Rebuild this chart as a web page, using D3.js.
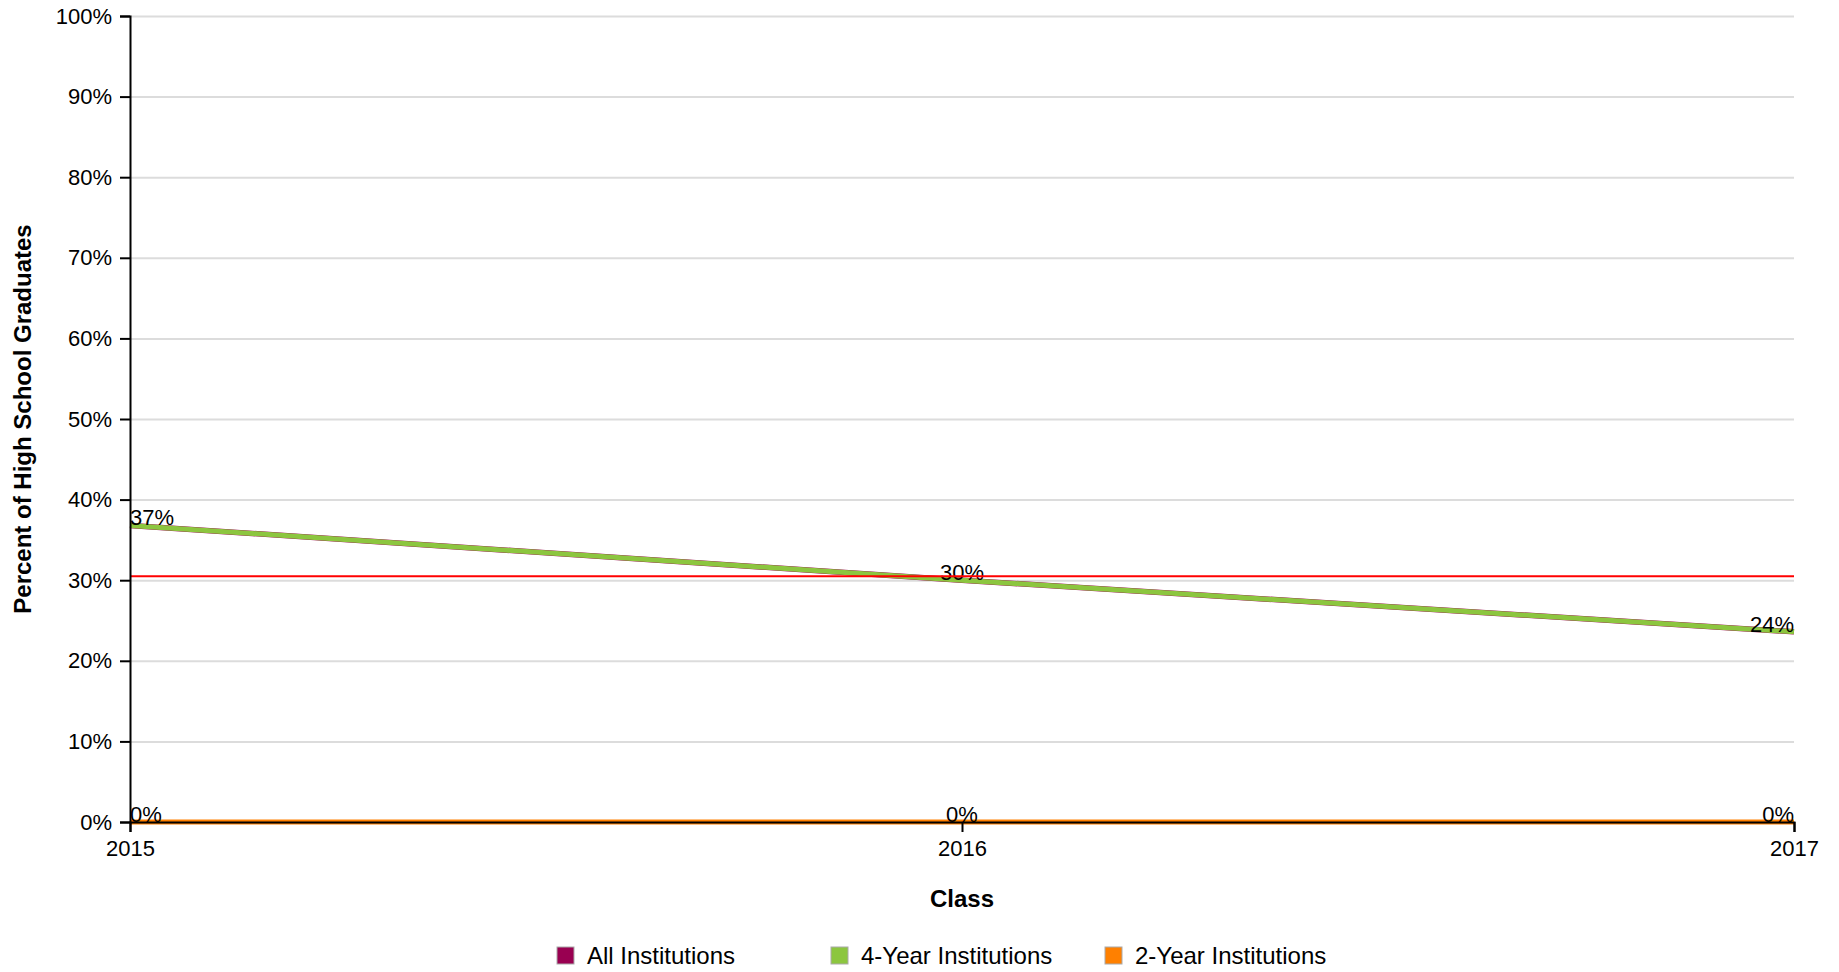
<!DOCTYPE html>
<html>
<head>
<meta charset="utf-8">
<script src="https://cdn.jsdelivr.net/npm/d3@7"></script>
<style>
  body { margin: 0; background: #fff; font-family: "Liberation Sans", Arial, sans-serif; }
  .grid line { stroke: #dcdcdc; stroke-width: 2; }
  .grid .domain { display: none; }
</style>
</head>
<body>
<div id="chart"></div>
<script>
// chart values
var classes = [2015, 2016, 2017];
var seriesNames = ['All Institutions', '4-Year Institutions', '2-Year Institutions'];
var seriesColors = ['#990051', '#8cc63f', '#ff8000'];
var allInstitutions = [0.368, 0.300, 0.236];
var fourYear = [0.368, 0.300, 0.236];
var twoYear = [0, 0, 0];
var benchmark = 0.305;
var yTicks = [0, 0.1, 0.2, 0.3, 0.4, 0.5, 0.6, 0.7, 0.8, 0.9, 1];

var width = 1839, height = 972;
var plotLeft = 130, plotRight = 1794, plotTop = 16, plotBottom = 822;

var svg = d3.select('#chart').append('svg')
    .attr('width', width)
    .attr('height', height);

var x = d3.scaleLinear().domain([2015, 2017]).range([plotLeft, plotRight]);
var y = d3.scaleLinear().domain([0, 1]).range([plotBottom, plotTop]);

// gridlines
svg.append('g')
    .attr('class', 'grid')
    .attr('transform', `translate(${plotLeft},0)`)
    .call(d3.axisLeft(y).tickValues(yTicks.slice(1)).tickSize(-(plotRight - plotLeft)).tickFormat(''));

// lines
var lineGen = d3.line()
    .x((d, i) => x(classes[i]))
    .y(d => y(d));

var series = [
    { name: seriesNames[0], color: seriesColors[0], values: allInstitutions, width: 5.5, label: false },
    { name: seriesNames[1], color: seriesColors[1], values: fourYear, width: 5, label: true },
    { name: seriesNames[2], color: seriesColors[2], values: twoYear, width: 5, label: true }
];

series.forEach(function (s) {
    svg.append('path')
        .attr('d', lineGen(s.values))
        .style('fill', 'none')
        .style('stroke', s.color)
        .style('stroke-width', s.width);
});

// value labels
series.filter(s => s.label).forEach(function (s) {
    s.values.forEach(function (v, i) {
        svg.append('text')
            .attr('x', x(classes[i]))
            .attr('y', y(v))
            .attr('text-anchor', i === 0 ? 'start' : (i === classes.length - 1 ? 'end' : 'middle'))
            .style('font-size', '22px')
            .style('fill', '#000')
            .text(Math.round(v * 100) + '%');
    });
});

// benchmark line
svg.append('line')
    .attr('x1', plotLeft)
    .attr('x2', plotRight)
    .attr('y1', y(benchmark))
    .attr('y2', y(benchmark))
    .style('stroke', '#ff0000')
    .style('stroke-width', 2);

// axes
var yAxis = svg.append('g')
    .attr('transform', `translate(${plotLeft},0)`)
    .call(d3.axisLeft(y).tickValues(yTicks).tickSize(10).tickPadding(8).tickFormat(d => Math.round(d * 100) + '%'));

var xAxis = svg.append('g')
    .attr('transform', `translate(0,${plotBottom})`)
    .call(d3.axisBottom(x).tickValues(classes).tickSize(10).tickPadding(8).tickFormat(d3.format('d')));

[yAxis, xAxis].forEach(function (a) {
    a.select('.domain').style('stroke', '#000').style('stroke-width', 2);
    a.selectAll('.tick line').style('stroke', '#000').style('stroke-width', 2);
    a.selectAll('.tick text')
        .style('font-size', '22px')
        .style('font-family', '"Liberation Sans", Arial, sans-serif')
        .style('fill', '#000');
});

// axis titles
svg.append('text')
    .attr('x', (plotLeft + plotRight) / 2)
    .attr('y', 907)
    .attr('text-anchor', 'middle')
    .style('font-size', '24px')
    .style('font-weight', 'bold')
    .text('Class');

svg.append('text')
    .attr('transform', `translate(31,${(plotTop + plotBottom) / 2}) rotate(-90)`)
    .attr('text-anchor', 'middle')
    .style('font-size', '24px')
    .style('font-weight', 'bold')
    .text('Percent of High School Graduates');

// legend
var legend = svg.append('g');
seriesNames.forEach(function (name, i) {
    var g = legend.append('g').attr('transform', `translate(${557 + i * 274},947)`);
    g.append('rect')
        .attr('width', 17)
        .attr('height', 17)
        .style('fill', seriesColors[i])
        .style('stroke', '#aaa')
        .style('stroke-width', 1);
    g.append('text')
        .attr('x', 30)
        .attr('y', 17)
        .style('font-size', '24px')
        .text(name);
});
</script>
</body>
</html>
